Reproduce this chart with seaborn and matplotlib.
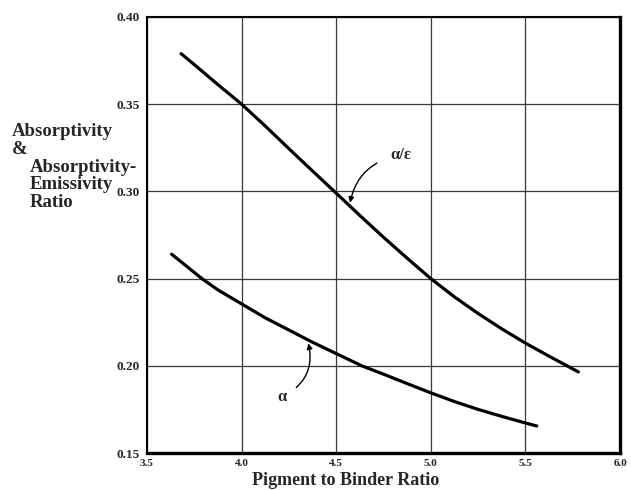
import matplotlib
matplotlib.use("Agg")
import matplotlib.pyplot as plt
import seaborn as sns
import pandas as pd

# ---- data ----
ratio_ae_x = [3.68, 3.75, 3.875, 4.0, 4.125, 4.25, 4.375, 4.5, 4.625, 4.75,
              4.875, 5.0, 5.125, 5.25, 5.375, 5.5, 5.625, 5.78]
ratio_ae_y = [0.379, 0.3727, 0.3612, 0.350, 0.3375, 0.3245, 0.3117, 0.299, 0.2862, 0.2737,
              0.2617, 0.250, 0.2395, 0.2300, 0.2212, 0.2130, 0.2055, 0.1965]

alpha_x = [3.63, 3.70, 3.79, 3.875, 4.0, 4.125, 4.25, 4.375, 4.5, 4.635,
           4.75, 4.875, 5.0, 5.125, 5.25, 5.375, 5.5, 5.56]
alpha_y = [0.264, 0.2579, 0.250, 0.2435, 0.2355, 0.2275, 0.2205, 0.2135, 0.207, 0.200,
           0.1952, 0.1898, 0.1845, 0.1795, 0.175, 0.171, 0.1672, 0.1655]

x_ticks = [3.5, 4.0, 4.5, 5.0, 5.5, 6.0]
x_tick_labels = ["3.5", "4.0", "4.5", "5.0", "5.5", "6.0"]
y_ticks = [0.15, 0.20, 0.25, 0.30, 0.35, 0.40]
y_tick_labels = ["0.15", "0.20", "0.25", "0.30", "0.35", "0.40"]

x_label = "Pigment to Binder Ratio"
y_label_lines = ["Absorptivity", "&", "Absorptivity-", "Emissivity", "Ratio"]
label_ae = "α/ε"
label_a = "α"

df = pd.concat([
    pd.DataFrame({"x": ratio_ae_x, "y": ratio_ae_y, "series": label_ae}),
    pd.DataFrame({"x": alpha_x, "y": alpha_y, "series": label_a}),
])

sns.set_style("white")
plt.rcParams["font.family"] = ["Liberation Serif", "DejaVu Serif"]
plt.rcParams["font.weight"] = "bold"

fig = plt.figure(figsize=(6.31, 4.90), dpi=100)
ax = fig.add_axes([147 / 631, 1 - 453 / 490, (620 - 147) / 631, (453 - 17) / 490])

sns.lineplot(data=df, x="x", y="y", hue="series", palette={label_ae: "black", label_a: "black"},
             linewidth=2.3, legend=False, ax=ax, sort=False, estimator=None)

ax.set_xlim(3.5, 6.0)
ax.set_ylim(0.15, 0.40)
ax.set_xticks(x_ticks)
ax.set_xticklabels(x_tick_labels, fontsize=8, fontweight="bold")
ax.set_yticks(y_ticks)
ax.set_yticklabels(y_tick_labels, fontsize=9.5, fontweight="bold")
ax.tick_params(axis="y", direction="out", length=4, width=1, color="black", pad=1)
ax.tick_params(axis="x", length=0, pad=4)

ax.grid(True, color="#3a3a3a", linewidth=0.9)
ax.set_axisbelow(True)

for side, lw in [("left", 1.5), ("top", 1.5), ("bottom", 2.4), ("right", 2.4)]:
    ax.spines[side].set_visible(True)
    ax.spines[side].set_color("black")
    ax.spines[side].set_linewidth(lw)

ax.set_xlabel("")
ax.set_ylabel("")
fig.text(346 / 631, 1 - 485 / 490, x_label, fontsize=13, fontweight="bold",
         ha="center", va="baseline")

# multi-line y label placed as in the reference (pixel positions, top-left origin)
y_label_pos = [(12, 131), (12, 149), (30, 168), (30, 184), (30, 202)]
for (px, py), txt in zip(y_label_pos, y_label_lines):
    fig.text(px / 631, 1 - py / 490, txt, fontsize=13.5, fontweight="bold",
             ha="left", va="center")

# curve annotations
ax.annotate(label_ae, xy=(4.573, 0.2935), xytext=(4.842, 0.3206),
            fontsize=12, fontweight="bold", ha="center", va="center",
            arrowprops=dict(arrowstyle="-|>", color="black", lw=1.0,
                            mutation_scale=8, shrinkA=8, shrinkB=0,
                            connectionstyle="arc3,rad=0.35"))
ax.annotate(label_a, xy=(4.353, 0.2129), xytext=(4.212, 0.1823),
            fontsize=12, fontweight="bold", ha="center", va="center",
            arrowprops=dict(arrowstyle="-|>", color="black", lw=1.0,
                            mutation_scale=8, shrinkA=6, shrinkB=0,
                            connectionstyle="arc3,rad=0.4"))

fig.savefig("out.png", dpi=100)
